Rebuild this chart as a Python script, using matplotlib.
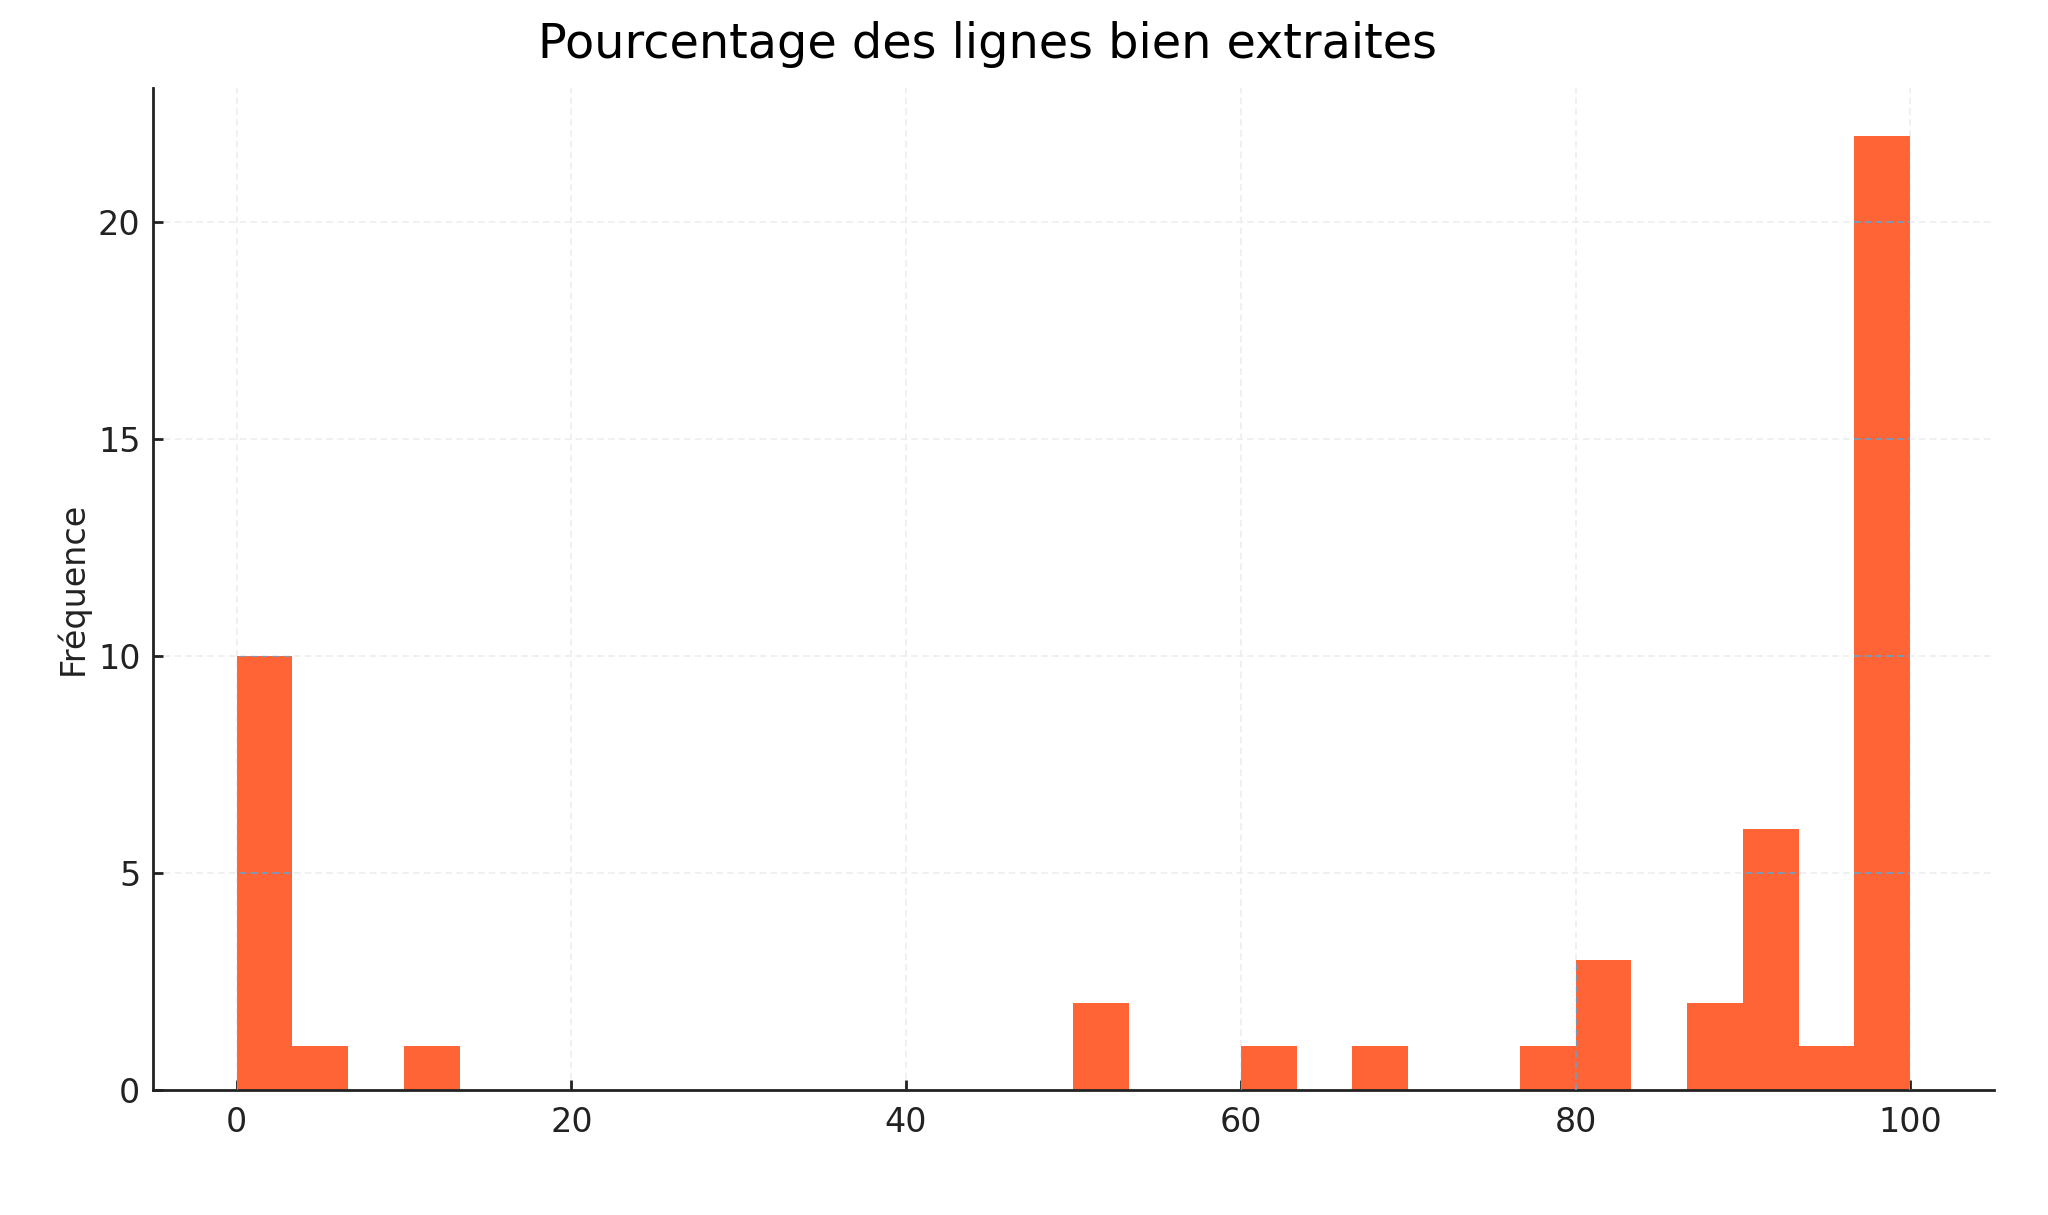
import numpy as np
import matplotlib
matplotlib.use("Agg")
import matplotlib.pyplot as plt

# histogram: 30 bins over 0..100, counts
bin_lo = 0
bin_hi = 100
n_bins = 30
counts = [10, 1, 0, 1, 0, 0, 0, 0, 0, 0,
          0, 0, 0, 0, 0, 2, 0, 0, 1, 0,
          1, 0, 0, 1, 3, 0, 2, 6, 1, 22]
x_ticks = [0, 20, 40, 60, 80, 100]
y_ticks = [0, 5, 10, 15, 20]

bar_color = '#ff6437'
grid_color = '#eeeeee'
grid_on_bar = '#6c9fc9'

fig = plt.figure(figsize=(10.24, 6.075), dpi=200)
ax = fig.add_axes([0.0747, 0.1032, 0.8989, 0.8244])

edges = np.linspace(bin_lo, bin_hi, n_bins + 1)
centers = (edges[:-1] + edges[1:]) / 2
n, b, patches = ax.hist(centers, bins=edges, weights=counts, color=bar_color,
                        edgecolor='none', linewidth=0)

ax.set_axisbelow(True)
ax.grid(True, linestyle=(0, (4, 2.5)), linewidth=0.6, color=grid_color)

# grid lines seen through the bars turn bluish in the reference
for p in patches:
    if p.get_height() <= 0:
        continue
    for yv in y_ticks[1:]:
        ln = ax.axhline(yv, color=grid_on_bar, linestyle=(0, (4, 2.5)),
                        linewidth=0.6, zorder=3)
        ln.set_clip_path(p)
    for xv in x_ticks:
        ln = ax.axvline(xv, color=grid_on_bar, linestyle=(0, (4, 2.5)),
                        linewidth=0.6, zorder=3)
        ln.set_clip_path(p)

ax.set_xticks(x_ticks)
ax.set_yticks(y_ticks)
ax.set_xlim(-5, 105)
ax.set_ylim(0, 23.1)

for s in ['top', 'right']:
    ax.spines[s].set_visible(False)
for s in ['left', 'bottom']:
    ax.spines[s].set_linewidth(1.0)
    ax.spines[s].set_color('#222222')

ax.tick_params(direction='in', length=3.5, width=1.0, labelsize=12,
               colors='#222222', pad=6)
ax.tick_params(axis='y', pad=4.5)
ax.set_ylabel('Fréquence', fontsize=12, color='#222222', labelpad=3)

fig.text(0.482, 0.963, 'Pourcentage des lignes bien extraites', fontsize=17.2,
         ha='center', va='center', color='black')

fig.savefig('out.png', dpi=200)
